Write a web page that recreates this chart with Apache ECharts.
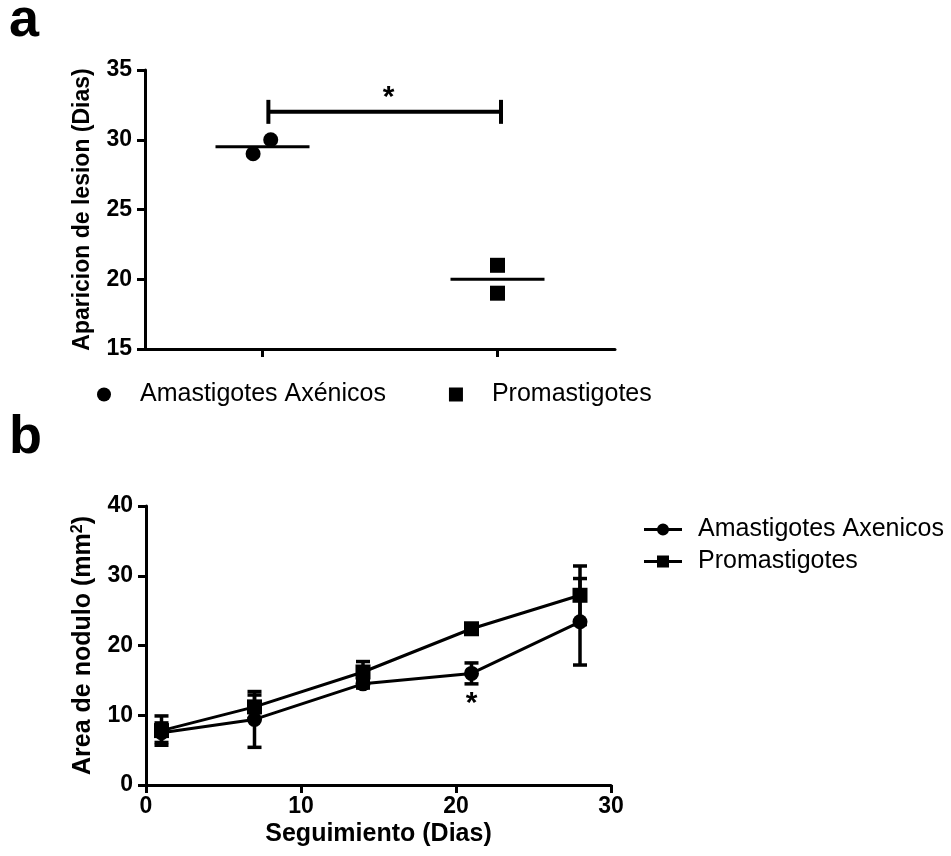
<!DOCTYPE html>
<html>
<head>
<meta charset="utf-8">
<script src="https://cdn.jsdelivr.net/npm/echarts@6/dist/echarts.min.js"></script>
<style>
  html, body { margin: 0; padding: 0; background: #fff; }
  #chart { width: 951px; height: 856px; }
</style>
</head>
<body>
<div id="chart"></div>
<script>
// ---- Panel a: lesion onset (days) per parasite form ----
const groupTicks = [1, 3];
const amaOnsetX = [0.92, 1.07];
const amaOnsetY = [29, 30];
const proOnsetX = [3, 3];
const proOnsetY = [21, 19];
const sigBracket = [1.05, 3.03, 32];   // from x, to x, y
const sigLabel = '*';

// ---- Panel b: nodule area over follow-up ----
const days = [1, 7, 14, 21, 28];
const amaArea = [7.5, 9.4, 14.5, 16.0, 23.4];
const amaSem = [1.4, 4.0, 0.6, 1.5, 6.2];
const proArea = [7.8, 11.2, 16.2, 22.4, 27.2];
const proSem = [2.1, 1.7, 1.5, 0.4, 4.2];
const sigDay = 21;
const sigDayY = 11.6;

const legendText = {
  amaA: 'Amastigotes Axénicos',
  proA: 'Promastigotes',
  amaB: 'Amastigotes Axenicos',
  proB: 'Promastigotes'
};

const FONT = "'Liberation Sans', Arial, sans-serif";
const mean = arr => arr.reduce((s, v) => s + v, 0) / arr.length;
const zip = (a, b) => a.map((v, i) => [v, b[i]]);

const axisLineStyle = { lineStyle: { color: '#000', width: 3 } };
const tickStyle = { show: true, length: 8, lineStyle: { color: '#000', width: 3 } };
const tickLabel = { color: '#000', fontFamily: FONT, fontWeight: 'bold', fontSize: 23, margin: 13 };
const nameStyle = { color: '#000', fontFamily: FONT, fontWeight: 'bold', fontSize: 24 };

// legend glyphs: a thick line with a marker in the middle
const lineCircleIcon = 'path://M0,5.5H38V8.5H0Z M13,7A6,6 0 1,1 25,7A6,6 0 1,1 13,7Z';
const lineSquareIcon = 'path://M0,5.5H38V8.5H0Z M13,1H25V13H13Z';

function errorBars(params, api) {
  const x = api.value(0), y = api.value(1), e = api.value(2);
  const hi = api.coord([x, y + e]);
  const lo = api.coord([x, y - e]);
  const w = 7;
  const st = { stroke: '#000', lineWidth: 3.5 };
  return {
    type: 'group',
    children: [
      { type: 'line', shape: { x1: hi[0], y1: hi[1], x2: lo[0], y2: lo[1] }, style: st },
      { type: 'line', shape: { x1: hi[0] - w, y1: hi[1], x2: hi[0] + w, y2: hi[1] }, style: st },
      { type: 'line', shape: { x1: lo[0] - w, y1: lo[1], x2: lo[0] + w, y2: lo[1] }, style: st }
    ]
  };
}

function bracket(params, api) {
  const x1 = api.value(0), x2 = api.value(1), y = api.value(2);
  const a = api.coord([x1, y]);
  const b = api.coord([x2, y]);
  const h = 12;
  const st = { stroke: '#000', lineWidth: 4 };
  return {
    type: 'group',
    children: [
      { type: 'line', shape: { x1: a[0], y1: a[1], x2: b[0], y2: b[1] }, style: st },
      { type: 'line', shape: { x1: a[0], y1: a[1] - h, x2: a[0], y2: a[1] + h }, style: st },
      { type: 'line', shape: { x1: b[0], y1: b[1] - h, x2: b[0], y2: b[1] + h }, style: st },
      { type: 'text', style: { text: sigLabel, x: (a[0] + b[0]) / 2 + 4, y: a[1] + 1, align: 'center', verticalAlign: 'bottom', font: 'bold 30px ' + FONT, fill: '#000' } }
    ]
  };
}

function starText(params, api) {
  const p = api.coord([api.value(0), api.value(1)]);
  return { type: 'text', style: { text: sigLabel, x: p[0], y: p[1], align: 'center', verticalAlign: 'middle', font: 'bold 30px ' + FONT, fill: '#000' } };
}

const chart = echarts.init(document.getElementById('chart'), null, { renderer: 'canvas' });

const amaMean = mean(amaOnsetY);
const proMean = mean(proOnsetY);

chart.setOption({
  animation: false,
  backgroundColor: '#fff',
  textStyle: { fontFamily: FONT },
  graphic: [
    { type: 'text', left: 9, top: -6, style: { text: 'a', font: 'bold 54px ' + FONT, fill: '#000' } },
    { type: 'text', left: 9, top: 411, style: { text: 'b', font: 'bold 54px ' + FONT, fill: '#000' } }
  ],
  legend: [
    {
      left: 92, top: 377, orient: 'horizontal',
      itemWidth: 62, itemHeight: 14, itemGap: 63,
      data: [{ name: 'amaA', icon: 'circle' }, { name: 'proA', icon: 'path://M0,0H10V10H0Z' }],
      formatter: n => legendText[n],
      textStyle: { color: '#000', fontFamily: FONT, fontSize: 25 },
      selectedMode: false
    },
    {
      left: 639, top: 512, orient: 'vertical',
      itemWidth: 38, itemHeight: 14, itemGap: 7,
      data: [{ name: 'amaB', icon: lineCircleIcon }, { name: 'proB', icon: lineSquareIcon }],
      formatter: n => legendText[n],
      textStyle: { color: '#000', fontFamily: FONT, fontSize: 25, padding: [0, 0, 0, 11] },
      selectedMode: false
    }
  ],
  grid: [
    { left: 145, right: 336, top: 70, height: 279 },
    { left: 146, right: 340, top: 506, height: 279 }
  ],
  xAxis: [
    {
      gridIndex: 0, type: 'value', min: 0, max: 4,
      axisLine: axisLineStyle,
      axisTick: Object.assign({ customValues: groupTicks }, tickStyle),
      axisLabel: { show: false },
      splitLine: { show: false }
    },
    {
      gridIndex: 1, type: 'value', min: 0, max: 30, interval: 10,
      axisLine: axisLineStyle, axisTick: tickStyle,
      axisLabel: Object.assign({}, tickLabel, { margin: 10 }),
      splitLine: { show: false },
      name: 'Seguimiento (Dias)', nameLocation: 'middle', nameGap: 37,
      nameTextStyle: Object.assign({}, nameStyle, { fontSize: 25 })
    }
  ],
  yAxis: [
    {
      gridIndex: 0, type: 'value', min: 15, max: 35, interval: 5,
      axisLine: Object.assign({ show: true }, axisLineStyle), axisTick: tickStyle, axisLabel: tickLabel,
      splitLine: { show: false },
      name: 'Aparicion de lesion (Dias)', nameLocation: 'middle', nameGap: 51,
      nameTextStyle: Object.assign({}, nameStyle, { fontSize: 23 })
    },
    {
      gridIndex: 1, type: 'value', min: 0, max: 40, interval: 10,
      axisLine: Object.assign({ show: true }, axisLineStyle), axisTick: tickStyle, axisLabel: tickLabel,
      splitLine: { show: false },
      name: '{t|Area de nodulo (mm}{s|2}{t|)}', nameLocation: 'middle', nameGap: 50,
      nameTextStyle: Object.assign({}, nameStyle, {
        rich: {
          t: { fontFamily: FONT, fontWeight: 'bold', fontSize: 25, color: '#000' },
          s: { fontFamily: FONT, fontWeight: 'bold', fontSize: 16, color: '#000', verticalAlign: 'top', padding: [0, 0, 10, 0] }
        }
      })
    }
  ],
  series: [
    // panel a
    {
      name: 'amaA', type: 'scatter', xAxisIndex: 0, yAxisIndex: 0,
      symbol: 'circle', symbolSize: 15, itemStyle: { color: '#000', opacity: 1 },
      data: zip(amaOnsetX, amaOnsetY), z: 3
    },
    {
      name: 'proA', type: 'scatter', xAxisIndex: 0, yAxisIndex: 0,
      symbol: 'rect', symbolSize: 15, itemStyle: { color: '#000', opacity: 1 },
      data: zip(proOnsetX, proOnsetY), z: 3
    },
    {
      type: 'line', xAxisIndex: 0, yAxisIndex: 0, symbol: 'none',
      lineStyle: { color: '#000', width: 3 },
      data: [[groupTicks[0] - 0.4, amaMean], [groupTicks[0] + 0.4, amaMean]]
    },
    {
      type: 'line', xAxisIndex: 0, yAxisIndex: 0, symbol: 'none',
      lineStyle: { color: '#000', width: 3 },
      data: [[groupTicks[1] - 0.4, proMean], [groupTicks[1] + 0.4, proMean]]
    },
    {
      type: 'custom', xAxisIndex: 0, yAxisIndex: 0, renderItem: bracket,
      data: [sigBracket], clip: false
    },
    // panel b
    {
      type: 'custom', xAxisIndex: 1, yAxisIndex: 1, renderItem: errorBars,
      data: days.map((d, i) => [d, amaArea[i], amaSem[i]]), z: 2
    },
    {
      type: 'custom', xAxisIndex: 1, yAxisIndex: 1, renderItem: errorBars,
      data: days.map((d, i) => [d, proArea[i], proSem[i]]), z: 2
    },
    {
      name: 'amaB', type: 'line', xAxisIndex: 1, yAxisIndex: 1,
      symbol: 'circle', symbolSize: 15,
      lineStyle: { color: '#000', width: 3 }, itemStyle: { color: '#000' },
      data: zip(days, amaArea), z: 3
    },
    {
      name: 'proB', type: 'line', xAxisIndex: 1, yAxisIndex: 1,
      symbol: 'rect', symbolSize: 15,
      lineStyle: { color: '#000', width: 3 }, itemStyle: { color: '#000' },
      data: zip(days, proArea), z: 3
    },
    {
      type: 'custom', xAxisIndex: 1, yAxisIndex: 1, renderItem: starText,
      data: [[sigDay, sigDayY]]
    }
  ]
});
</script>
</body>
</html>
